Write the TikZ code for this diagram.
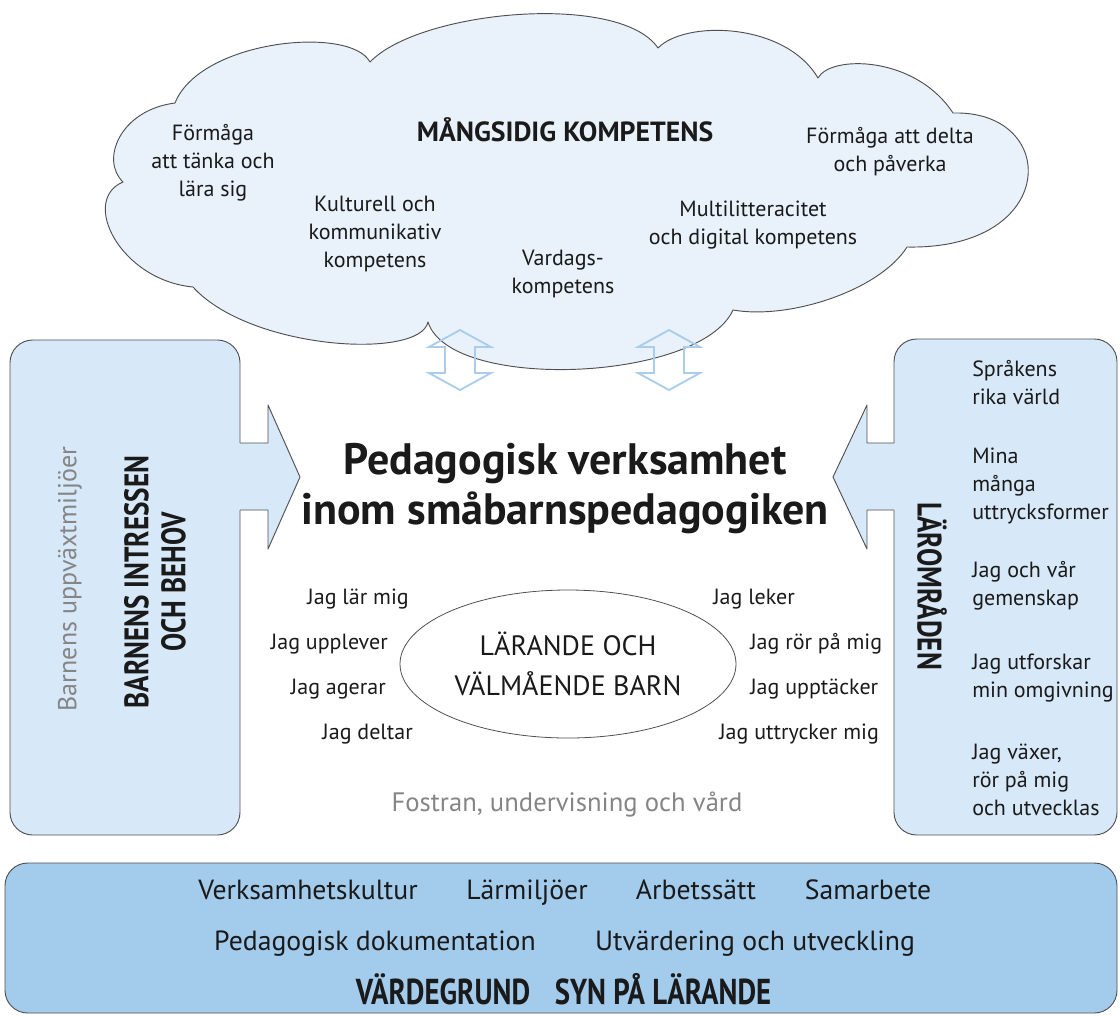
\documentclass[tikz,border=0pt]{standalone}
\usepackage{fontspec}
\setmainfont{PT Sans}
\newfontfamily\condfont{PT Sans}[FakeStretch=0.8]
\usetikzlibrary{shapes.geometric}
\definecolor{ink}{HTML}{1A1A1A}
\definecolor{outline}{HTML}{505050}
\definecolor{cloudfill}{HTML}{E9F2FB}
\definecolor{panelfill}{HTML}{D7E8F8}
\definecolor{barfill}{HTML}{A3CBEC}
\definecolor{arrowblue}{HTML}{A9CDEB}
\definecolor{softgray}{HTML}{858585}
\newcommand\myfs[2]{\fontsize{#1}{#2}\selectfont}
\tikzset{
  cloudshape/.style={draw=outline, fill=cloudfill, line width=0.7pt},
  panelshape/.style={draw=outline, fill=panelfill, line width=0.7pt, rounded corners=17pt},
  barshape/.style={draw=outline, fill=barfill, line width=0.7pt, rounded corners=17pt},
  arrowfill/.style={fill=panelfill, draw=none},
  arrowline/.style={draw=outline, line width=0.7pt},
  dblarrow/.style={draw=arrowblue, line width=1.4pt, line join=miter},
  ctext/.style={font=\myfs{16.5}{21}, align=center, inner sep=0pt, text=ink},
  ptext/.style={font=\myfs{16.5}{21}, align=left, inner sep=0pt, text=ink, anchor=west},
  jtext/.style={font=\myfs{16.5}{21}, inner sep=0pt, text=ink, text height=12pt, text depth=3pt},
  bartext/.style={font=\myfs{20.8}{24}, inner sep=0pt, text=ink, text height=15pt, text depth=4pt},
  barbold/.style={font=\condfont\bfseries\myfs{27}{30}, inner sep=0pt, text=ink, text height=18pt, text depth=1pt},
  condhead/.style={font=\condfont\bfseries\myfs{25.5}{27.75}, align=center, inner sep=0pt, text=ink},
  grayt/.style={font=\myfs{19.5}{23}, inner sep=0pt, text=softgray},
}
\begin{document}
\begin{tikzpicture}[x=0.75pt,y=-0.75pt, line join=round]
\useasboundingbox (0,0) rectangle (1120,1015);

% ---------- cloud ----------
\draw[cloudshape] (123,182) .. controls (100,160) and (120,110) .. (175,103)
 .. controls (200,40) and (350,25) .. (370,62)
 .. controls (420,10) and (620,-8) .. (658,48)
 .. controls (685,20) and (785,22) .. (818,78)
 .. controls (830,55) and (915,55) .. (953,113)
 .. controls (1060,110) and (1060,250) .. (907,247)
 .. controls (880,290) and (790,320) .. (733,310)
 .. controls (700,382) and (450,392) .. (428,322)
 .. controls (420,360) and (250,350) .. (193,287)
 .. controls (120,280) and (80,200) .. (123,182) -- cycle;

\node[font=\bfseries\myfs{20.8}{24}, inner sep=0pt, text=ink] (mk) at (565,130) {MÅNGSIDIG KOMPETENS};
\node[ctext] (f1) at (213,163) {Förmåga\\att tänka och\\lära sig};
\node[ctext] (kk) at (375,234) {Kulturell och\\kommunikativ\\kompetens};
\node[ctext] (vk) at (563,274) {Vardags-\\kompetens};
\node[ctext] (ml) at (753,225) {Multilitteracitet\\och digital kompetens};
\node[ctext] (fd) at (890,152) {Förmåga att delta\\och påverka};

% ---------- double arrows ----------
\foreach \cx in {460, 669}{
  \draw[dblarrow] (\cx,330) -- ++(31,17) -- ++(-16,0) -- ++(0,26) -- ++(16,0)
    -- (\cx,390) -- ++(-31,-17) -- ++(16,0) -- ++(0,-26) -- ++(-16,0) -- cycle;
}

% ---------- left panel ----------
\draw[panelshape] (10,340) rectangle (240,835);
\fill[arrowfill] (238.5,443) -- (268,443) -- (268,405) -- (300,477) -- (268,549) -- (268,510) -- (238.5,510) -- cycle;
\draw[arrowline] (240,443) -- (268,443) -- (268,405) -- (300,477) -- (268,549) -- (268,510) -- (240,510);
\node[grayt, rotate=90] (bum) at (70,579) {Barnens uppväxtmiljöer};
\node[condhead, rotate=90] (bib) at (155,582) {BARNENS INTRESSEN\\OCH BEHOV};

% ---------- right panel ----------
\draw[panelshape] (894,339) rectangle (1117,835);
\fill[arrowfill] (895.5,443) -- (867,443) -- (867,405) -- (833,477) -- (867,549) -- (867,510) -- (895.5,510) -- cycle;
\draw[arrowline] (894,443) -- (867,443) -- (867,405) -- (833,477) -- (867,549) -- (867,510) -- (894,510);
\node[condhead, rotate=-90] (lo) at (932,586) {LÄROMRÅDEN};
\node[ptext] (r1) at (972,383) {Språkens\\rika värld};
\node[ptext] (r2) at (972,486) {Mina\\många\\uttrycksformer};
\node[ptext] (r3) at (972,586) {Jag och vår\\gemenskap};
\node[ptext] (r4) at (972,678) {Jag utforskar\\min omgivning};
\node[ptext] (r5) at (972,780) {Jag växer,\\rör på mig\\och utvecklas};

% ---------- centre ----------
\node[font=\bfseries\myfs{33}{37.5}, align=center, inner sep=0pt, text=ink] (title) at (565,489)
  {Pedagogisk verksamhet\\inom småbarnspedagogiken};

\node[ellipse, draw=outline, line width=0.6pt, minimum width=252pt, minimum height=111pt,
      inner sep=0pt, align=center, font=\myfs{21}{30}, text=ink] (lv) at (568,664)
  {LÄRANDE OCH\\VÄLMÅENDE BARN};

\node[jtext, anchor=east] (j1) at (409,598) {Jag lär mig};
\node[jtext, anchor=east] (j2) at (388,643) {Jag upplever};
\node[jtext, anchor=east] (j3) at (386,688) {Jag agerar};
\node[jtext, anchor=east] (j4) at (413,733) {Jag deltar};
\node[jtext, anchor=west] (j5) at (713,598) {Jag leker};
\node[jtext, anchor=west] (j6) at (750,643) {Jag rör på mig};
\node[jtext, anchor=west] (j7) at (750,688) {Jag upptäcker};
\node[jtext, anchor=west] (j8) at (719,733) {Jag uttrycker mig};

\node[grayt, font=\myfs{20}{24}, text height=14pt, text depth=4pt] (fuv) at (567,805) {Fostran, undervisning och vård};

% ---------- bottom bar ----------
\draw[barshape] (5,863) rectangle (1117,1013);
\node[bartext] (b1) at (308,892) {Verksamhetskultur};
\node[bartext] (b2) at (527,892) {Lärmiljöer};
\node[bartext] (b3) at (696,892) {Arbetssätt};
\node[bartext] (b4) at (868,892) {Samarbete};
\node[bartext] (b5) at (375,943) {Pedagogisk dokumentation};
\node[bartext] (b6) at (755,943) {Utvärdering och utveckling};
\node[barbold] (b7) at (443,993) {VÄRDEGRUND};
\node[barbold] (b8) at (663,993) {SYN PÅ LÄRANDE};
\end{tikzpicture}
\end{document}
